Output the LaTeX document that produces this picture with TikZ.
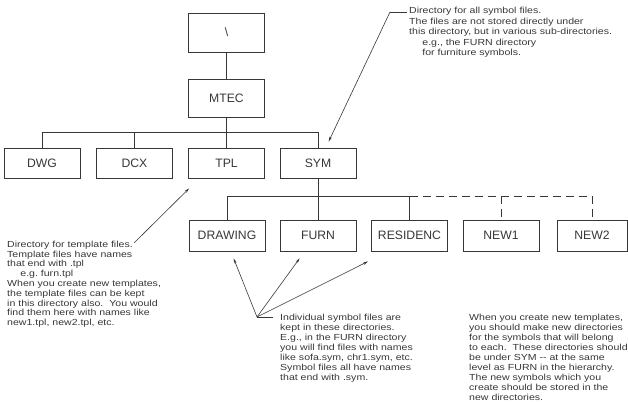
\documentclass[tikz,border=0pt]{standalone}
\usepackage{fontspec}
\usepackage{graphicx}
\usetikzlibrary{arrows.meta}
\newfontfamily\notefont{Liberation Sans}
\newfontfamily\boxfont{Liberation Sans}
\newcommand{\wideblock}[2]{\scalebox{1.2}[1]{\notefont\fontsize{8.8}{#1}\selectfont\begin{tabular}{@{}l@{}}#2\end{tabular}}}
\definecolor{ink}{RGB}{55,55,55}
\tikzset{
  dirbox/.style={draw=ink, line width=0.8pt, minimum width=76pt, inner sep=0pt,
    font=\boxfont\fontsize{12.2}{14}\selectfont, text=ink},
  note/.style={anchor=north west, inner sep=0pt, text=ink},
  conn/.style={draw=ink, line width=0.8pt},
  dconn/.style={conn, dash pattern=on 8pt off 5pt},
  arr/.style={draw=ink, line width=0.6pt, -{Stealth[length=5pt,width=2.6pt]}},
}
\begin{document}
\begin{tikzpicture}[x=1pt,y=-1pt]
\useasboundingbox (0,0) rectangle (628,401);
\frenchspacing
% level 0 and 1
\node[dirbox, minimum height=39pt] (root) at (226.5,32.5) {\textbackslash};
\node[dirbox, minimum height=38pt] (mtec) at (226.5,98) {MTEC};
\node[dirbox, minimum height=30pt] (dwg) at (42,163) {DWG};
\node[dirbox, minimum height=30pt] (dcx) at (134.5,163) {DCX};
\node[dirbox, minimum height=30pt] (tpl) at (226.5,163) {TPL};
\node[dirbox, minimum height=30pt] (sym) at (318,163) {SYM};
% level 2
\node[dirbox, minimum height=31pt] (drawing) at (227,235.5) {DRAWING};
\node[dirbox, minimum height=31pt] (furn) at (318,235.5) {FURN};
\node[dirbox, minimum height=31pt] (resid) at (409.5,235.5) {RESIDENC};
\node[dirbox, minimum height=31pt] (new1) at (501,235.5) {NEW1};
\node[dirbox, minimum height=31pt, minimum width=70pt] (new2) at (592,235.5) {NEW2};
% buses
\coordinate (b1) at (0,132.3);
\coordinate (b2) at (0,196);
\draw[conn] (root) -- (mtec);
\draw[conn] (mtec) -- (tpl);
\draw[conn] (dwg.north) -- (dwg.north |- b1) -- (sym.north |- b1) -- (sym.north);
\draw[conn] (dcx.north) -- (dcx.north |- b1);
\draw[conn] (sym.south) -- (furn.north);
\draw[conn] (drawing.north) -- (drawing.north |- b2) -- (resid.north |- b2) -- (resid.north);
\draw[dconn] (resid.north |- b2) -- (new2.north |- b2) -- (new2.north);
\draw[dconn] (new1.north |- b2) -- (new1.north);
% notes
\node[note] (symnote) at (409,5.8) {\wideblock{10.6}{%
Directory for all symbol files.\\
The files are not stored directly under\\
this directory, but in various sub-directories.\\
\hspace*{11pt}e.g., the FURN directory\\
\hspace*{11pt}for furniture symbols.}};
\node[note] (tplnote) at (7,240.3) {\wideblock{9.8}{%
Directory for template files.\\
Template files have names\\
that end with .tpl\\
\hspace*{11pt}e.g. furn.tpl\\
When you create new templates,\\
the template files can be kept\\
in this directory also.\ \ You would\\
find them here with names like\\
new1.tpl, new2.tpl, etc.}};
\node[note] (indnote) at (280,313.2) {\wideblock{10}{%
Individual symbol files are\\
kept in these directories.\\
E.g., in the FURN directory\\
you will find files with names\\
like sofa.sym, chr1.sym, etc.\\
Symbol files all have names\\
that end with .sym.}};
\node[note] (newnote) at (469,313.2) {\wideblock{10}{%
When you create new templates,\\
you should make new directories\\
for the symbols that will belong\\
to each.\ \ These directories should\\
be under SYM -{}- at the same\\
level as FURN in the hierarchy.\\
The new symbols which you\\
create should be stored in the\\
new directories.}};
% leaders
\coordinate (s0) at (407,12);
\coordinate (s1) at (390,12);
\draw[conn, line width=0.6pt] (s0) -- (s1);
\draw[arr] (s1) -- ([shift={(49,-6)}]sym.north west);
\coordinate (t0) at (134,243);
\draw[arr] (t0) -- ([shift={(1,10)}]tpl.south west);
\coordinate (i0) at (273,317);
\coordinate (i1) at (257,317);
\draw[conn, line width=0.6pt] (i0) -- (i1);
\draw[arr] (i1) -- ([shift={(45,7)}]drawing.south west);
\draw[arr] (i1) -- ([shift={(20,7)}]furn.south west);
\draw[arr] (i1) -- ([shift={(-3,10)}]resid.south west);
\end{tikzpicture}
\end{document}
